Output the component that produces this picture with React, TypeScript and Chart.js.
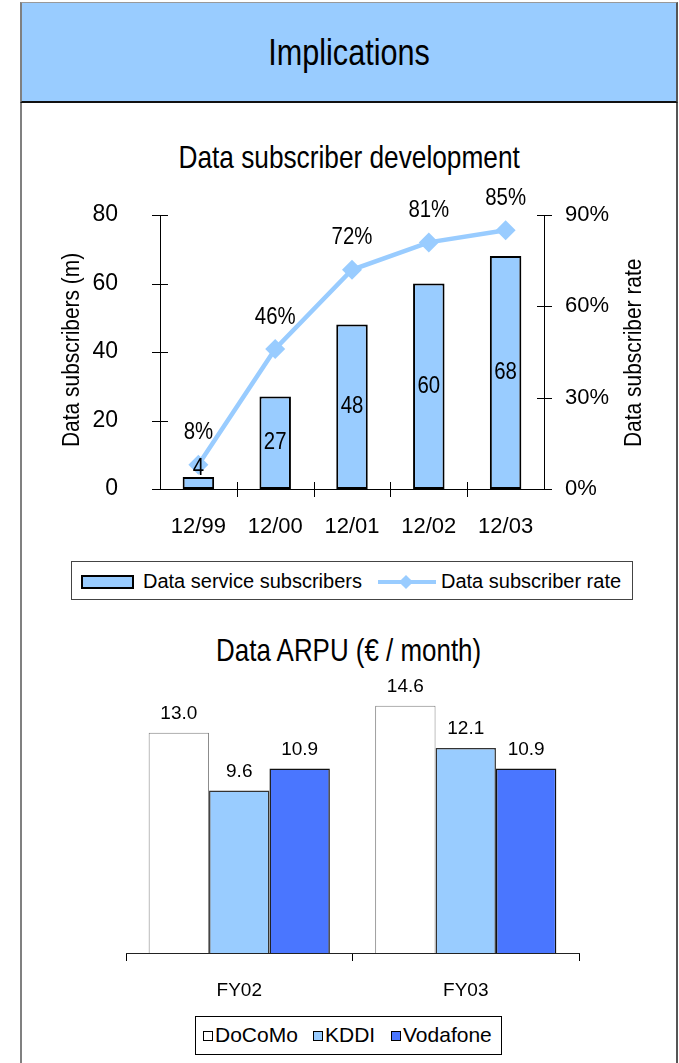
import React, { useEffect, useRef } from "react";
import { Chart, registerables } from "chart.js";

Chart.register(...registerables);

const REG = '"Liberation Sans", Arial, sans-serif';
const LIGHT_BLUE = "#99CCFF";
const DARK_BLUE = "#4A76FF";

// Chart 1: Data subscriber development
const subscriberCategories = ["12/99", "12/00", "12/01", "12/02", "12/03"];
const subscribers = [3.5, 27, 48, 60, 68];
const subscriberLabels = ["4", "27", "48", "60", "68"];
const subscriberRate = [8, 46, 72, 81, 85];
const leftAxisMax = 80;
const leftAxisStep = 20;
const rightAxisMax = 90;
const rightAxisStep = 30;

// Chart 2: Data ARPU
const arpuCategories = ["FY02", "FY03"];
const docomo = [13.0, 14.6];
const kddi = [9.6, 12.1];
const vodafone = [10.9, 10.9];

function narrowText(ctx: any, text: string, x: number, y: number, sx: number) {
  ctx.save();
  ctx.translate(x, y);
  ctx.scale(sx, 1);
  ctx.fillText(text, 0, 0);
  ctx.restore();
}

const subscriberDecor = {
  id: "subscriberDecor",
  afterDatasetsDraw(chart: any) {
    const { ctx } = chart;
    const x = chart.scales.x;
    const y = chart.scales.y;
    const y2 = chart.scales.y2;
    ctx.save();
    ctx.strokeStyle = "#000";
    ctx.lineWidth = 1;
    ctx.beginPath();
    y.ticks.forEach((_: any, i: number) => {
      const p = Math.round(y.getPixelForTick(i)) + 0.5;
      ctx.moveTo(x.left - 8, p);
      ctx.lineTo(x.left + 8, p);
    });
    y2.ticks.forEach((_: any, i: number) => {
      const p = Math.round(y2.getPixelForTick(i)) + 0.5;
      ctx.moveTo(x.right - 7, p);
      ctx.lineTo(x.right + 8, p);
    });
    for (let i = 1; i < x.ticks.length; i++) {
      const p = Math.round((x.getPixelForTick(i - 1) + x.getPixelForTick(i)) / 2) + 0.5;
      ctx.moveTo(p, y.bottom - 7);
      ctx.lineTo(p, y.bottom + 8);
    }
    ctx.stroke();

    ctx.fillStyle = "#000";
    ctx.font = `24px ${REG}`;
    ctx.textAlign = "center";
    ctx.textBaseline = "middle";
    const barMeta = chart.getDatasetMeta(1);
    barMeta.data.forEach((el: any, i: number) => {
      const h = el.base - el.y;
      const cy = h < 24 ? el.y - 9 : (el.y + el.base) / 2;
      narrowText(ctx, subscriberLabels[i], el.x, cy, 0.85);
    });
    const lineMeta = chart.getDatasetMeta(0);
    lineMeta.data.forEach((el: any, i: number) => {
      narrowText(ctx, `${subscriberRate[i]}%`, el.x, el.y - 32, 0.85);
    });

    // axis titles (rotated, reading bottom to top)
    ctx.font = `23px ${REG}`;
    ctx.textAlign = "left";
    ctx.textBaseline = "alphabetic";
    ctx.save();
    ctx.translate(79, y.bottom - 42);
    ctx.rotate(-Math.PI / 2);
    ctx.scale(0.91, 1);
    ctx.fillText("Data subscribers (m)", 0, 0);
    ctx.restore();

    ctx.save();
    ctx.beginPath();
    ctx.rect(600, y.top - 92, 79, 400);
    ctx.clip();
    ctx.translate(641, y.bottom - 42);
    ctx.rotate(-Math.PI / 2);
    ctx.scale(0.91, 1);
    ctx.fillText("Data subscriber rate", 0, 0);
    ctx.restore();

    ctx.restore();
  },
};

const arpuDecor = {
  id: "arpuDecor",
  afterDatasetsDraw(chart: any) {
    const { ctx } = chart;
    ctx.save();
    ctx.fillStyle = "#000";
    ctx.font = `19px ${REG}`;
    ctx.textAlign = "center";
    ctx.textBaseline = "middle";
    chart.data.datasets.forEach((ds: any, di: number) => {
      const meta = chart.getDatasetMeta(di);
      meta.data.forEach((el: any, i: number) => {
        ctx.fillText(Number(ds.data[i]).toFixed(1), el.x, el.y - 19);
      });
    });
    ctx.restore();
  },
};

export default function App() {
  const c1 = useRef<HTMLCanvasElement>(null);
  const c2 = useRef<HTMLCanvasElement>(null);

  useEffect(() => {
    const ch1 = new Chart(c1.current as HTMLCanvasElement, {
      type: "bar",
      data: {
        labels: subscriberCategories,
        datasets: [
          {
            type: "line",
            label: "Data subscriber rate",
            data: subscriberRate,
            yAxisID: "y2",
            borderColor: LIGHT_BLUE,
            backgroundColor: LIGHT_BLUE,
            borderWidth: 4.5,
            pointStyle: "rectRot",
            pointRadius: 10,
            pointHoverRadius: 10,
            pointBorderWidth: 0,
            pointBackgroundColor: LIGHT_BLUE,
            tension: 0,
            order: 0,
          } as any,
          {
            type: "bar",
            label: "Data service subscribers",
            data: subscribers,
            yAxisID: "y",
            backgroundColor: LIGHT_BLUE,
            borderColor: "#000",
            borderWidth: 2,
            borderSkipped: false,
            categoryPercentage: 1,
            barPercentage: 0.41,
            order: 1,
          } as any,
        ],
      },
      options: {
        responsive: false,
        animation: false,
        events: [],
        layout: { padding: { top: 85, left: 0, right: 0, bottom: 0 } },
        plugins: {
          legend: { display: false },
          tooltip: { enabled: false },
          title: { display: false },
        },
        scales: {
          x: {
            offset: true,
            grid: { display: false },
            border: { display: true, color: "#000", width: 1 },
            ticks: { color: "#000", font: { family: REG, size: 22 }, padding: 17 },
            afterFit: (s: any) => {
              s.height = 61;
            },
          },
          y: {
            position: "left",
            min: 0,
            max: leftAxisMax,
            grid: { display: false },
            border: { display: true, color: "#000", width: 1 },
            ticks: {
              stepSize: leftAxisStep,
              color: "#000",
              font: { family: REG, size: 23 },
              padding: 34,
            },
            afterFit: (s: any) => {
              s.width = 160;
            },
          },
          y2: {
            position: "right",
            min: 0,
            max: rightAxisMax,
            grid: { display: false },
            border: { display: true, color: "#000", width: 1 },
            ticks: {
              stepSize: rightAxisStep,
              color: "#000",
              font: { family: REG, size: 22 },
              padding: 13,
              callback: (v: any) => `${v}%`,
            },
            afterFit: (s: any) => {
              s.width = 135;
            },
          },
        },
      } as any,
      plugins: [subscriberDecor],
    });

    const ch2 = new Chart(c2.current as HTMLCanvasElement, {
      type: "bar",
      data: {
        labels: arpuCategories,
        datasets: [
          {
            label: "DoCoMo",
            data: docomo,
            backgroundColor: "#FFFFFF",
            borderColor: "#808080",
            borderWidth: 1,
            borderSkipped: "bottom",
          },
          {
            label: "KDDI",
            data: kddi,
            backgroundColor: LIGHT_BLUE,
            borderColor: "#333333",
            borderWidth: 1.5,
            borderSkipped: "bottom",
          },
          {
            label: "Vodafone",
            data: vodafone,
            backgroundColor: DARK_BLUE,
            borderColor: "#111111",
            borderWidth: 1.5,
            borderSkipped: "bottom",
          },
        ],
      },
      options: {
        responsive: false,
        animation: false,
        events: [],
        layout: { padding: { top: 22, left: 126, right: 100, bottom: 0 } },
        datasets: { bar: { categoryPercentage: 0.8, barPercentage: 1 } },
        plugins: {
          legend: { display: false },
          tooltip: { enabled: false },
          title: { display: false },
        },
        scales: {
          x: {
            offset: true,
            grid: {
              display: true,
              drawOnChartArea: false,
              drawTicks: true,
              tickLength: 8,
              offset: true,
              color: "#000",
            },
            border: { display: true, color: "#222", width: 1 },
            ticks: { color: "#000", font: { family: REG, size: 19 }, padding: 18 },
            afterFit: (s: any) => {
              s.height = 52;
            },
          },
          y: { display: false, min: 0, max: 16 },
        },
      } as any,
      plugins: [arpuDecor],
    });

    return () => {
      ch1.destroy();
      ch2.destroy();
    };
  }, []);

  const titleStyle: React.CSSProperties = {
    position: "absolute",
    left: 20,
    width: 658,
    textAlign: "center",
    fontFamily: REG,
    color: "#000",
    lineHeight: "40px",
    height: 40,
    whiteSpace: "nowrap",
  };

  const squeeze = (sx: number): React.CSSProperties => ({
    display: "inline-block",
    transform: `scaleX(${sx})`,
    transformOrigin: "center",
  });

  const legendText: React.CSSProperties = {
    position: "absolute",
    fontFamily: REG,
    fontSize: 20,
    lineHeight: "24px",
    color: "#000",
    whiteSpace: "nowrap",
  };

  return (
    <div
      style={{
        position: "absolute",
        left: 0,
        top: 0,
        width: 679,
        height: 1063,
        overflow: "hidden",
        background: "#fff",
      }}
    >
      {/* panel */}
      <div
        style={{
          position: "absolute",
          left: 20,
          top: 100,
          width: 658,
          height: 1000,
          boxSizing: "border-box",
          borderLeft: "2px solid #808080",
          borderRight: "2px solid #555",
        }}
      />
      {/* header */}
      <div
        style={{
          position: "absolute",
          left: 20,
          top: 2,
          width: 658,
          height: 101,
          boxSizing: "border-box",
          background: LIGHT_BLUE,
          borderLeft: "2px solid #808080",
          borderRight: "2px solid #555",
          borderTop: "1px solid #999",
          borderBottom: "2px solid #111",
          textAlign: "center",
          fontFamily: REG,
          fontSize: 36,
          lineHeight: "100px",
          color: "#000",
        }}
      >
        <span style={squeeze(0.85)}>Implications</span>
      </div>

      <div style={{ ...titleStyle, top: 137, fontSize: 32 }}>
        <span style={squeeze(0.82)}>Data subscriber development</span>
      </div>

      <canvas
        ref={c1}
        width={679}
        height={420}
        style={{ position: "absolute", left: 0, top: 130, width: 679, height: 420 }}
      />

      {/* legend 1 */}
      <div
        style={{
          position: "absolute",
          left: 71,
          top: 561,
          width: 562,
          height: 39,
          boxSizing: "border-box",
          border: "1px solid #444",
          background: "#fff",
        }}
      >
        <div
          style={{
            position: "absolute",
            left: 9,
            top: 13,
            width: 53,
            height: 14,
            boxSizing: "border-box",
            background: LIGHT_BLUE,
            border: "2px solid #000",
          }}
        />
        <div style={{ ...legendText, left: 71, top: 7 }}>Data service subscribers</div>
        <div
          style={{
            position: "absolute",
            left: 306,
            top: 18,
            width: 58,
            height: 4,
            background: LIGHT_BLUE,
          }}
        />
        <div
          style={{
            position: "absolute",
            left: 329,
            top: 15,
            width: 10,
            height: 10,
            background: LIGHT_BLUE,
            transform: "rotate(45deg)",
          }}
        />
        <div style={{ ...legendText, left: 369, top: 7 }}>Data subscriber rate</div>
      </div>

      <div style={{ ...titleStyle, top: 630, fontSize: 32 }}>
        <span style={squeeze(0.81)}>Data ARPU (€ / month)</span>
      </div>

      <canvas
        ref={c2}
        width={679}
        height={345}
        style={{ position: "absolute", left: 0, top: 660, width: 679, height: 345 }}
      />

      {/* legend 2 */}
      <div
        style={{
          position: "absolute",
          left: 195,
          top: 1016,
          width: 307,
          height: 39,
          boxSizing: "border-box",
          border: "1.5px solid #000",
          background: "#fff",
        }}
      >
        {[
          { name: "DoCoMo", color: "#fff", sx: 7, tx: 19 },
          { name: "KDDI", color: LIGHT_BLUE, sx: 117, tx: 129 },
          { name: "Vodafone", color: DARK_BLUE, sx: 195, tx: 207 },
        ].map((it) => (
          <React.Fragment key={it.name}>
            <div
              style={{
                position: "absolute",
                left: it.sx,
                top: 14,
                width: 10,
                height: 10,
                boxSizing: "border-box",
                background: it.color,
                border: "1px solid #000",
              }}
            />
            <div style={{ ...legendText, left: it.tx, top: 6, fontSize: 21 }}>{it.name}</div>
          </React.Fragment>
        ))}
      </div>
    </div>
  );
}
